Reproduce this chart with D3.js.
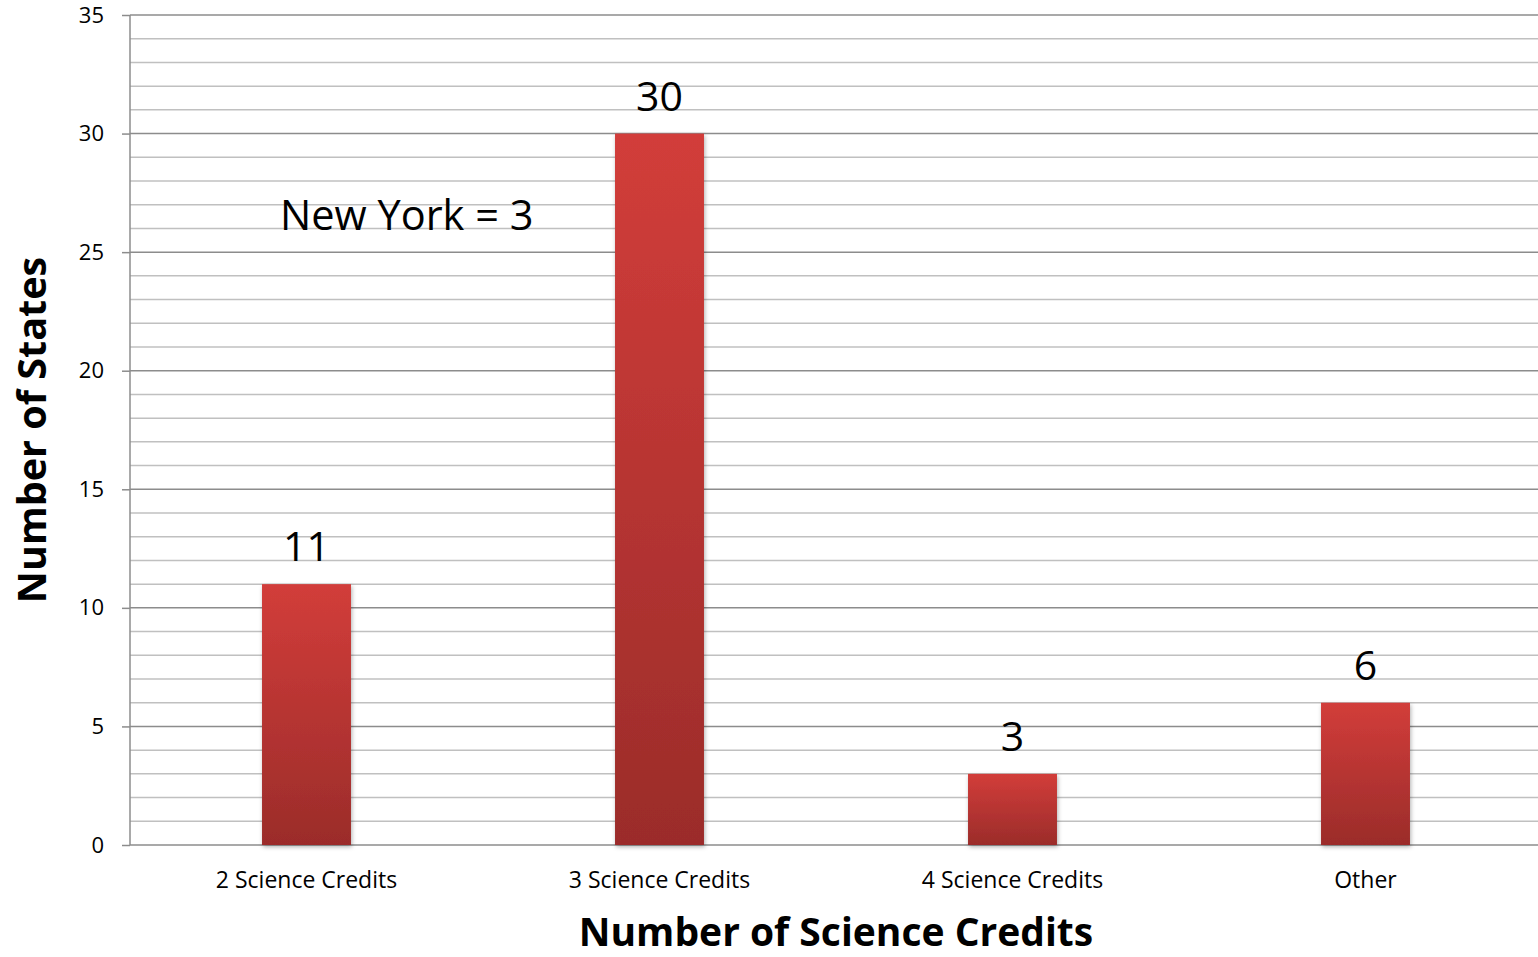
<!DOCTYPE html>
<html><head><meta charset="utf-8">
<script src="https://cdn.jsdelivr.net/npm/d3@7"></script>
<style>body{margin:0;background:#fff}svg{display:block}text{font-family:"Open Sans",sans-serif}</style>
</head><body><svg id="c" width="1538" height="957"></svg>
<script>
const categories = ["2 Science Credits","3 Science Credits","4 Science Credits","Other"];
const values = [11,30,3,6];
const yTicks = [0,5,10,15,20,25,30,35];
const minorTicks = d3.range(0,36,1);
const annotation = "New York = 3";
const yTitle = "Number of States";
const xTitle = "Number of Science Credits";

const svg = d3.select("#c");
const L=130, R=1542, T=15, B=845;
const x = d3.scaleBand().domain(categories).range([L,R]).padding(0);
const y = d3.scaleLinear().domain([0,35]).range([B,T]);

const defs = svg.append("defs");
const g = defs.append("linearGradient").attr("id","bg").attr("x1",0).attr("y1",0).attr("x2",0).attr("y2",1);
g.append("stop").attr("offset","0%").attr("stop-color","#d23d3a");
g.append("stop").attr("offset","100%").attr("stop-color","#9b2c2a");
const f = defs.append("filter").attr("id","sh").attr("x","-20%").attr("y","-5%").attr("width","140%").attr("height","115%");
f.append("feDropShadow").attr("dx",1).attr("dy",2).attr("stdDeviation",2).attr("flood-color","#000").attr("flood-opacity",0.3);

// minor grid
svg.append("g").selectAll("line").data(minorTicks.filter(d=>d%5!==0)).join("line")
  .attr("x1",L).attr("x2",1538).attr("y1",d=>y(d)).attr("y2",d=>y(d))
  .attr("stroke","#c0c0c0").attr("stroke-width",1.5);
// major grid
svg.append("g").selectAll("line").data(yTicks).join("line")
  .attr("x1",L).attr("x2",1538).attr("y1",d=>y(d)).attr("y2",d=>y(d))
  .attr("stroke","#8c8c8c").attr("stroke-width",1.5);

// y axis
const ya = svg.append("g").attr("transform",`translate(${L},0)`)
  .call(d3.axisLeft(y).tickValues(yTicks).tickSize(8).tickPadding(18));
ya.select(".domain").attr("stroke","#8c8c8c").attr("stroke-width",1.5).attr("d",`M0,${B}V${T}`);
ya.selectAll(".tick line").attr("stroke","#8c8c8c").attr("stroke-width",1.5);
ya.selectAll(".tick text").attr("font-size",22).attr("fill","#000").attr("font-family","Open Sans");

// bars
const bw = x.bandwidth()*0.252;
svg.append("g").selectAll("rect").data(values).join("rect")
  .attr("x",(d,i)=>x(categories[i])+x.bandwidth()/2-bw/2)
  .attr("y",d=>y(d)).attr("width",bw).attr("height",d=>B-y(d))
  .attr("fill","url(#bg)").attr("filter","url(#sh)");

// value labels
svg.append("g").selectAll("text").data(values).join("text")
  .attr("x",(d,i)=>x(categories[i])+x.bandwidth()/2).attr("y",d=>y(d)-23)
  .attr("text-anchor","middle").attr("font-size",41).text(d=>d);

// x labels
svg.append("g").selectAll("text").data(categories).join("text")
  .attr("x",d=>x(d)+x.bandwidth()/2).attr("y",888)
  .attr("text-anchor","middle").attr("font-size",23).text(d=>d);

svg.append("text").attr("x",280).attr("y",230).attr("font-size",41.5).text(annotation);
svg.append("text").attr("transform","translate(46,430) rotate(-90)").attr("text-anchor","middle")
  .attr("font-size",39.5).attr("font-weight","bold").text(yTitle);
svg.append("text").attr("x",836).attr("y",946).attr("text-anchor","middle")
  .attr("font-size",39).attr("font-weight","bold").text(xTitle);
</script></body></html>
